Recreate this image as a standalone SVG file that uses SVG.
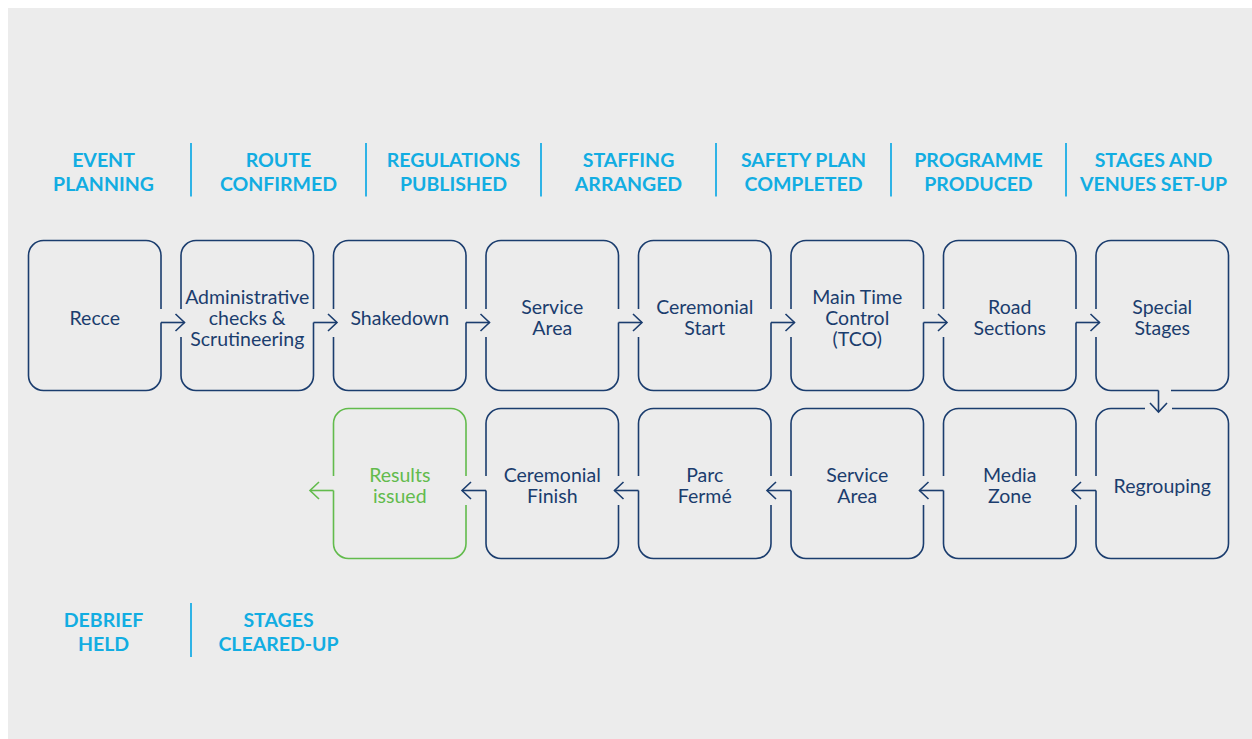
<svg xmlns="http://www.w3.org/2000/svg" width="1252" height="739" viewBox="0 0 1252 739">
<style>
.bg{fill:#ececec}
.hd{font-family:Lato,"Open Sans","DejaVu Sans",sans-serif;font-weight:700;font-size:19.5px;fill:#12ade2;text-anchor:middle}
.sep{stroke:#2fb3e6;stroke-width:2;fill:none}
.box{fill:none;stroke:#1b3d6e;stroke-width:1.6}
.box.g{stroke:#62bb4c}
.t{font-family:Lato,"Open Sans","DejaVu Sans",sans-serif;font-size:19.5px;fill:#1b3d6e;text-anchor:middle}
.t.g{fill:#62bb4c}
.c{fill:none;stroke:#1b3d6e;stroke-width:1.6}
.c.g{stroke:#62bb4c}
</style>
<defs>
<marker id="ah" markerUnits="userSpaceOnUse" markerWidth="14" markerHeight="20" refX="9" refY="8.5" orient="auto" overflow="visible">
<path d="M0,0 L9,8.5 L0,17" fill="none" stroke="#1b3d6e" stroke-width="1.6" stroke-linejoin="miter"/>
</marker>
<marker id="ahg" markerUnits="userSpaceOnUse" markerWidth="14" markerHeight="20" refX="9" refY="8.5" orient="auto" overflow="visible">
<path d="M0,0 L9,8.5 L0,17" fill="none" stroke="#62bb4c" stroke-width="1.6" stroke-linejoin="miter"/>
</marker>
</defs>
<rect class="bg" x="8" y="8" width="1244" height="731"/>

<g id="phases-top">
<text class="hd" x="103.5" y="166.5">EVENT<tspan x="103.5" y="190.5">PLANNING</tspan></text>
<text class="hd" x="278.5" y="166.5">ROUTE<tspan x="278.5" y="190.5">CONFIRMED</tspan></text>
<text class="hd" x="453.5" y="166.5">REGULATIONS<tspan x="453.5" y="190.5">PUBLISHED</tspan></text>
<text class="hd" x="628.5" y="166.5">STAFFING<tspan x="628.5" y="190.5">ARRANGED</tspan></text>
<text class="hd" x="803.5" y="166.5">SAFETY PLAN<tspan x="803.5" y="190.5">COMPLETED</tspan></text>
<text class="hd" x="978.5" y="166.5">PROGRAMME<tspan x="978.5" y="190.5">PRODUCED</tspan></text>
<text class="hd" x="1153.5" y="166.5">STAGES AND<tspan x="1153.5" y="190.5">VENUES SET-UP</tspan></text>
<path class="sep" d="M191,143V196.5M366,143V196.5M541,143V196.5M716,143V196.5M891,143V196.5M1066,143V196.5"/>
</g>

<g id="phases-bottom">
<text class="hd" x="103.5" y="626.5">DEBRIEF<tspan x="103.5" y="650.5">HELD</tspan></text>
<text class="hd" x="278.5" y="626.5">STAGES<tspan x="278.5" y="650.5">CLEARED-UP</tspan></text>
<path class="sep" d="M191,603V657"/>
</g>

<g id="n-recce">
<path class="box" d="M43.5,240.5H146A15,15 0 0 1 161,255.5V309M161,322.5V375.5A15,15 0 0 1 146,390.5H43.5A15,15 0 0 1 28.5,375.5V255.5A15,15 0 0 1 43.5,240.5"/>
<text class="t" x="94.75" y="324.5">Recce</text>
</g>
<g id="n-admin">
<path class="box" d="M196,240.5H298.5A15,15 0 0 1 313.5,255.5V309M313.5,322.5V375.5A15,15 0 0 1 298.5,390.5H196A15,15 0 0 1 181,375.5V337M181,309V255.5A15,15 0 0 1 196,240.5"/>
<text class="t" x="247.25" y="303.5">Administrative<tspan x="247.25" y="324.5">checks &amp;</tspan><tspan x="247.25" y="345.5">Scrutineering</tspan></text>
</g>
<g id="n-shakedown">
<path class="box" d="M348.5,240.5H451A15,15 0 0 1 466,255.5V309M466,322.5V375.5A15,15 0 0 1 451,390.5H348.5A15,15 0 0 1 333.5,375.5V337M333.5,309V255.5A15,15 0 0 1 348.5,240.5"/>
<text class="t" x="399.75" y="324.5">Shakedown</text>
</g>
<g id="n-service1">
<path class="box" d="M501,240.5H603.5A15,15 0 0 1 618.5,255.5V309M618.5,322.5V375.5A15,15 0 0 1 603.5,390.5H501A15,15 0 0 1 486,375.5V337M486,309V255.5A15,15 0 0 1 501,240.5"/>
<text class="t" x="552.25" y="314">Service<tspan x="552.25" y="335">Area</tspan></text>
</g>
<g id="n-cer-start">
<path class="box" d="M653.5,240.5H756A15,15 0 0 1 771,255.5V309M771,322.5V375.5A15,15 0 0 1 756,390.5H653.5A15,15 0 0 1 638.5,375.5V337M638.5,309V255.5A15,15 0 0 1 653.5,240.5"/>
<text class="t" x="704.75" y="314">Ceremonial<tspan x="704.75" y="335">Start</tspan></text>
</g>
<g id="n-mtc">
<path class="box" d="M806,240.5H908.5A15,15 0 0 1 923.5,255.5V309M923.5,322.5V375.5A15,15 0 0 1 908.5,390.5H806A15,15 0 0 1 791,375.5V337M791,309V255.5A15,15 0 0 1 806,240.5"/>
<text class="t" x="857.25" y="303.5">Main Time<tspan x="857.25" y="324.5">Control</tspan><tspan x="857.25" y="345.5">(TCO)</tspan></text>
</g>
<g id="n-road">
<path class="box" d="M958.5,240.5H1061A15,15 0 0 1 1076,255.5V309M1076,322.5V375.5A15,15 0 0 1 1061,390.5H958.5A15,15 0 0 1 943.5,375.5V337M943.5,309V255.5A15,15 0 0 1 958.5,240.5"/>
<text class="t" x="1009.75" y="314">Road<tspan x="1009.75" y="335">Sections</tspan></text>
</g>
<g id="n-special">
<path class="box" d="M1111,240.5H1213.5A15,15 0 0 1 1228.5,255.5V375.5A15,15 0 0 1 1213.5,390.5H1171M1158.5,390.5H1111A15,15 0 0 1 1096,375.5V337M1096,309V255.5A15,15 0 0 1 1111,240.5"/>
<text class="t" x="1162.25" y="314">Special<tspan x="1162.25" y="335">Stages</tspan></text>
</g>

<g id="n-regrouping">
<path class="box" d="M1111,408.5H1145M1172,408.5H1213.5A15,15 0 0 1 1228.5,423.5V543.5A15,15 0 0 1 1213.5,558.5H1111A15,15 0 0 1 1096,543.5V490.5M1096,476V423.5A15,15 0 0 1 1111,408.5"/>
<text class="t" x="1162.25" y="493">Regrouping</text>
</g>
<g id="n-media">
<path class="box" d="M958.5,408.5H1061A15,15 0 0 1 1076,423.5V476M1076,505V543.5A15,15 0 0 1 1061,558.5H958.5A15,15 0 0 1 943.5,543.5V490.5M943.5,476V423.5A15,15 0 0 1 958.5,408.5"/>
<text class="t" x="1009.75" y="482">Media<tspan x="1009.75" y="503">Zone</tspan></text>
</g>
<g id="n-service2">
<path class="box" d="M806,408.5H908.5A15,15 0 0 1 923.5,423.5V476M923.5,505V543.5A15,15 0 0 1 908.5,558.5H806A15,15 0 0 1 791,543.5V490.5M791,476V423.5A15,15 0 0 1 806,408.5"/>
<text class="t" x="857.25" y="482">Service<tspan x="857.25" y="503">Area</tspan></text>
</g>
<g id="n-parc">
<path class="box" d="M653.5,408.5H756A15,15 0 0 1 771,423.5V476M771,505V543.5A15,15 0 0 1 756,558.5H653.5A15,15 0 0 1 638.5,543.5V490.5M638.5,476V423.5A15,15 0 0 1 653.5,408.5"/>
<text class="t" x="704.75" y="482">Parc<tspan x="704.75" y="503">Fermé</tspan></text>
</g>
<g id="n-cer-finish">
<path class="box" d="M501,408.5H603.5A15,15 0 0 1 618.5,423.5V476M618.5,505V543.5A15,15 0 0 1 603.5,558.5H501A15,15 0 0 1 486,543.5V490.5M486,476V423.5A15,15 0 0 1 501,408.5"/>
<text class="t" x="552.25" y="482">Ceremonial<tspan x="552.25" y="503">Finish</tspan></text>
</g>
<g id="n-results">
<path class="box g" d="M348.5,408.5H451A15,15 0 0 1 466,423.5V476M466,505V543.5A15,15 0 0 1 451,558.5H348.5A15,15 0 0 1 333.5,543.5V490.5M333.5,476V423.5A15,15 0 0 1 348.5,408.5"/>
<text class="t g" x="399.75" y="482">Results<tspan x="399.75" y="503">issued</tspan></text>
</g>

<g id="connectors">
<path class="c" marker-end="url(#ah)" d="M161,322.5H184.5"/>
<path class="c" marker-end="url(#ah)" d="M313.5,322.5H337"/>
<path class="c" marker-end="url(#ah)" d="M466,322.5H489.5"/>
<path class="c" marker-end="url(#ah)" d="M618.5,322.5H642"/>
<path class="c" marker-end="url(#ah)" d="M771,322.5H794.5"/>
<path class="c" marker-end="url(#ah)" d="M923.5,322.5H947"/>
<path class="c" marker-end="url(#ah)" d="M1076,322.5H1099.5"/>
<path class="c" marker-end="url(#ah)" d="M1158.5,390.5V412"/>
<path class="c" marker-end="url(#ah)" d="M1096,490.5H1072"/>
<path class="c" marker-end="url(#ah)" d="M943.5,490.5H919.5"/>
<path class="c" marker-end="url(#ah)" d="M791,490.5H767"/>
<path class="c" marker-end="url(#ah)" d="M638.5,490.5H614.5"/>
<path class="c" marker-end="url(#ah)" d="M486,490.5H462"/>
<path class="c g" marker-end="url(#ahg)" d="M333.5,490.5H310"/>
</g>
</svg>
